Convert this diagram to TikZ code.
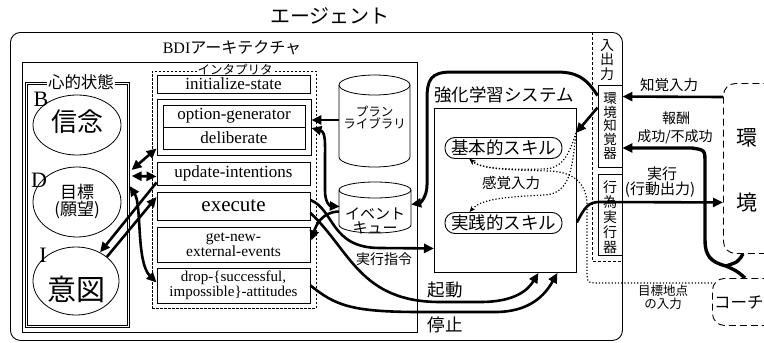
\documentclass[tikz,border=0pt]{standalone}
\usepackage{fontspec}
\setmainfont{Liberation Serif}
\newfontfamily\jp{Noto Sans CJK JP}
\usetikzlibrary{arrows.meta,calc,shapes.geometric}
\newcommand\fsz[1]{\fontsize{#1pt}{#1pt}\selectfont}
\newcommand\fszb[2]{\fontsize{#1pt}{#2pt}\selectfont}
\begin{document}
\begin{tikzpicture}[x=1pt,y=-1pt,
  box/.style={draw, line width=0.9pt, inner sep=0pt},
  tip/.style={-{Triangle[length=10pt,width=9pt]}},
  thk/.style={line width=2.6pt},
  arr/.style={thk, tip},
  darr/.style={thk, {Triangle[length=10pt,width=9pt]}-{Triangle[length=10pt,width=9pt]}},
  dot/.style={dotted, line width=1.2pt},
  dtip/.style={-{Stealth[length=6pt,width=5pt]}},
  jpt/.style={font={\jp\fsz{#1}}, inner sep=0pt},
  dsh/.style={draw, dash pattern=on 7pt off 4pt, line width=0.9pt, rounded corners=12pt, inner sep=0pt},
]
\useasboundingbox (0,0) rectangle (764,343);

% agent
\node[draw, line width=0.9pt, rounded corners=10pt, minimum width=612pt, minimum height=308pt, anchor=north west, inner sep=0] (agent) at (10,32) {};
\node[jpt=20] (agentt) at (330,16) {エージェント};

% BDI
\node[box, minimum width=395pt, minimum height=270pt, anchor=north west] (bdi) at (22,62) {};
\node[font=\fsz{16}, inner sep=0pt] (bdit) at (232,48) {BDI{\jp アーキテクチャ}};

% mental state
\node[draw, double, double distance=1.4pt, line width=0.6pt, minimum width=102pt, minimum height=243pt, anchor=north west, inner sep=0] (mental) at (26,83) {};
\node[fill=white, inner sep=1pt, font={\jp\fsz{16.5}}] (mentalt) at (81,82) {心的状態};

\node[draw, ellipse, line width=0.8pt, minimum width=88pt, minimum height=60pt, inner sep=0] (bel) at (77,125) {};
\node[jpt=26] (belt) at (77,122) {信念};
\node[font=\fsz{22}, inner sep=0pt] (bl) at (41,99) {B};

\node[draw, ellipse, line width=0.8pt, minimum width=88pt, minimum height=70pt, inner sep=0] (des) at (77,202) {};
\node[font={\jp\fszb{17}{17}}, align=center, inner sep=0pt] (dest) at (77,202) {目標\\(願望)};
\node[font=\fsz{22}, inner sep=0pt] (dl) at (39,180) {D};

\node[draw, ellipse, line width=0.8pt, minimum width=86pt, minimum height=68pt, inner sep=0] (int) at (76,281) {};
\node[jpt=29] (intt) at (76,289) {意図};
\node[font=\fsz{22}, inner sep=0pt] (il) at (43,255) {I};

% interpreter
\node[draw, dash pattern=on 2.5pt off 1.5pt, line width=0.8pt, minimum width=164pt, minimum height=237pt, anchor=north west, inner sep=0] (interp) at (152,71) {};
\node[fill=white, inner sep=1pt, font={\jp\fsz{12.5}}] (interpt) at (235,70) {インタプリタ};

\node[box, minimum width=153pt, minimum height=18pt, font=\fsz{17}] (init) at (233.5,84) {initialize-state};
\node[box, minimum width=154pt, minimum height=56pt] (optout) at (234,127) {};
\node[box, minimum width=142pt, minimum height=22pt, font=\fsz{17}] (optgen) at (234,116) {option-generator};
\node[box, minimum width=142pt, minimum height=22pt, font=\fsz{17}] (delib) at (234,138) {deliberate};
\node[box, minimum width=153pt, minimum height=23pt, font=\fsz{17}] (upd) at (233.5,173.5) {update-intentions};
\node[box, minimum width=153pt, minimum height=28pt, font=\fsz{21}] (exec) at (233.5,206) {execute};
\node[box, minimum width=153pt, minimum height=35pt, font=\fszb{15.5}{15.5}, align=center] (getnew) at (233.5,244.5) {get-new-\\external-events};
\node[box, minimum width=153pt, minimum height=35pt, font=\fszb{15}{15.5}, align=center] (drop) at (233.5,285.5) {drop-\{successful,\\impossible\}-attitudes};

% plan library
\draw[line width=0.8pt, fill=white] (339,85) -- (339,157) arc[start angle=180, end angle=360, x radius=35.5pt, y radius=10pt] -- (410,85);
\draw[line width=0.8pt] (374.5,85) ellipse [x radius=35.5pt, y radius=10pt];
\node[minimum width=71pt, minimum height=92pt, inner sep=0] (plan) at (374.5,121) {};
\node[font={\jp\fszb{12.5}{12}}, align=center, inner sep=0pt] (plant) at (374.5,117.5) {プラン\\ライブラリ};

% event queue
\draw[line width=0.8pt, fill=white] (339,190) -- (339,225) arc[start angle=180, end angle=360, x radius=36pt, y radius=8pt] -- (411,190);
\draw[line width=0.8pt] (375,190) ellipse [x radius=36pt, y radius=8pt];
\node[minimum width=72pt, minimum height=51pt, inner sep=0] (evq) at (375,207.5) {};
\node[font={\jp\fszb{15}{14.5}}, align=center, inner sep=0pt] (evqt) at (375,221) {イベント\\キュー};

% RL
\node[jpt=17.5] (rlt) at (504,95) {強化学習システム};
\node[box, minimum width=142pt, minimum height=164pt, anchor=north west] (rl) at (434,108) {};
\node[draw, line width=0.9pt, rounded corners=10pt, minimum width=117pt, minimum height=21pt, inner sep=0, font={\jp\fsz{17.5}}] (sk1) at (503.5,148) {基本的スキル};
\node[draw, line width=0.9pt, rounded corners=10pt, minimum width=117pt, minimum height=21pt, inner sep=0, font={\jp\fsz{17.5}}] (sk2) at (503.5,223) {実践的スキル};
\node[jpt=14.5] (sens) at (511,183) {感覚入力};

% I/O column
\draw[dash pattern=on 3pt off 2pt, line width=0.8pt] (592,32) -- (592,261) -- (622,261);
\node[font={\jp\fszb{14}{14.5}}, align=center, inner sep=0pt] (io) at (607,60) {入\\出\\力};
\node[box, minimum width=24pt, minimum height=82pt] (perc) at (610,126) {};
\node[font={\jp\fszb{13.5}{13.8}}, align=center, inner sep=0pt] (perct) at (610,126) {環\\境\\知\\覚\\器};
\node[box, minimum width=24pt, minimum height=81pt] (act) at (610,214.5) {};
\node[font={\jp\fszb{14}{15}}, align=center, inner sep=0pt] (actt) at (610,217) {行\\為\\実\\行\\器};

% environment & coach
\node[dsh, minimum width=70pt, minimum height=170pt, anchor=north west] (env) at (723,83) {};
\node[jpt=21] (envt1) at (747,138) {環};
\node[jpt=21] (envt2) at (747,203) {境};
\node[dsh, minimum width=80pt, minimum height=47pt, anchor=north west] (coach) at (712,278) {};
\node[jpt=16.5, anchor=west] (coacht) at (714,302) {コーチ};

% right arrows
\draw[arr] ($(env.north west)+(0,14)$) -- ($(perc.north east)+(0,12)$);
\node[jpt=14.5] (percl) at (669,85) {知覚入力};

\coordinate (rm) at (726,266);
\draw[line width=3.4pt] ($(env.south west)+(20,0)$) .. controls (738,262) .. (rm);
\draw[line width=3.4pt] ($(coach.north west)+(33,0)$) .. controls (737,271) .. (rm);
\draw[line width=3.4pt, tip] (rm) .. controls (710,262) and (705,255) .. (705,240) -- (705,163) .. controls (705,150) .. (692,148) -- ($(perc.east)+(0,22)$);
\node[jpt=14] (rew1) at (676,118) {報酬};
\node[jpt=14] (rew2) at (675,137) {成功/不成功};

\draw[arr] ($(rl.east)+(0,32)$) .. controls (585,207) and (588,202) .. (600,202) -- ($(env.west)+(0,34)$);
\node[jpt=15] (ex1) at (662,174) {実行};
\node[jpt=15] (ex2) at (660,190) {(行動出力)};

% coach goal dotted
\draw[dot, dtip] ($(coach.north west)+(0,5)$) -- (600,283) .. controls (587,283) .. (587,270) -- (587,205) .. controls (587,185) and (575,172) .. (550,171) .. controls (500,170) and (480,168) .. ($(sk1.south west)+(25,0)$);
\node[font={\jp\fszb{12.5}{13}}, align=center, inner sep=0pt] (goal) at (663,297) {目標地点\\の入力};

% percept arrows
\coordinate (sp) at (576,133);
\draw[line width=3pt, tip] ($(perc.north west)+(0,11)$) .. controls (585,76) and (575,72) .. (555,72) -- (452,72) .. controls (430,72) and (427,80) .. (427,100) -- (427,185) .. controls (427,197) and (420,203) .. ($(evq.east)+(0,-3)$);
\draw[arr] ($(perc.north west)+(0,23)$) -- (sp);
\draw[dot, dtip] (sp) .. controls (570,150) and (565,168) .. (545,169) .. controls (500,170) and (480,168) .. ($(sk1.south west)+(25,0)$);
\draw[dot, dtip] (sp) .. controls (572,170) and (570,193) .. (545,195) .. controls (500,197) and (480,200) .. ($(sk2.north west)+(25,0)$);

% BDI internal arrows
\draw[darr] ($(mental.north east)+(3,87)$) -- ($(optout.south west)+(0,-7)$);
\draw[darr] ($(mental.north east)+(3,93)$) -- ($(upd.west)+(0,3)$);
\draw[arr] ($(upd.south west)+(0,-3)$) -- (int.50);
\draw[arr] (int.38) -- ($(exec.west)+(0,-9)$);
\draw[darr] ($(mental.north east)+(1,103)$) .. controls (142,205) and (136,262) .. ($(drop.west)+(0,-3)$);

% middle arrows
\draw[arr] ($(plan.west)+(0,-1)$) -- ($(optout.east)+(0,-7)$);
\draw[darr] ($(optout.east)+(0,1)$) .. controls (326,132) and (325,145) .. (325,160) -- (325,190) .. controls (325,203) and (330,206) .. ($(evq.west)+(1,-1)$);
\draw[arr] ($(evq.west)+(0,4)$) .. controls (322,212) and (316,225) .. ($(getnew.east)+(1,-4)$);
\draw[arr] ($(exec.east)+(0,-6)$) .. controls (335,210) and (330,248) .. (380,248) -- ($(rl.west)+(0,58)$);
\node[jpt=14] (cmd) at (384,259) {実行指令};
\draw[arr] ($(exec.east)+(0,7)$) .. controls (350,250) and (360,302) .. (440,302) -- (480,302) .. controls (515,302) and (528,290) .. ($(rl.south)+(33,0)$);
\node[jpt=17.5] (start) at (445,290) {起動};
\draw[arr] (drop.east) .. controls (335,305) and (350,312) .. (420,312) -- (495,312) .. controls (530,312) and (545,295) .. ($(rl.south)+(52,0)$);
\node[jpt=17.5] (stop) at (445,325) {停止};
\end{tikzpicture}
\end{document}
